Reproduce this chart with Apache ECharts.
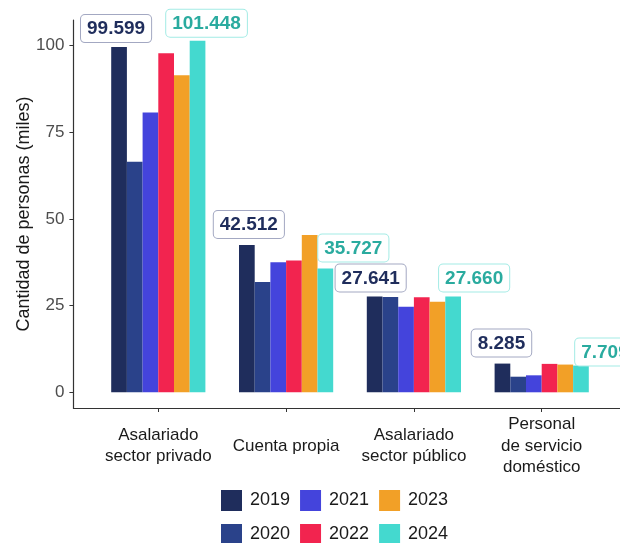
<!DOCTYPE html>
<html>
<head>
<meta charset="utf-8">
<script src="https://cdn.jsdelivr.net/npm/echarts@6/dist/echarts.min.js"></script>
<style>
html,body{margin:0;padding:0;background:#fff;}
#c{width:620px;height:543px;}
</style>
</head>
<body>
<div id="c"></div>
<script>
const categories = ['Asalariado\nsector privado', 'Cuenta propia', 'Asalariado\nsector público', 'Personal\nde servicio\ndoméstico'];
const years = ['2019', '2020', '2021', '2022', '2023', '2024'];
const v2019 = [99.599, 42.512, 27.641, 8.285];
const v2020 = [66.5, 31.8, 27.5, 4.5];
const v2021 = [80.7, 37.5, 24.7, 4.9];
const v2022 = [97.8, 38.0, 27.4, 8.2];
const v2023 = [91.5, 45.4, 26.1, 8.0];
const v2024 = [101.448, 35.727, 27.660, 7.709];
const yTicks = [0, 25, 50, 75, 100];
const yTitle = 'Cantidad de personas (miles)';

const values = [v2019, v2020, v2021, v2022, v2023, v2024];
const colors = ['#1f2d5c', '#2a428a', '#4444dc', '#f2244f', '#f2a027', '#44d9cf'];
const FONT = 'Liberation Sans, Arial, sans-serif';

// label nudges (repel-like placement), style only
const nudges2019 = [[-3, 0], [2, -2], [-4, 0], [-1, -2]];
const nudges2024 = [[9, 1], [28, -2], [21, 0], [24, 5]];

function labelled(vals, nudges, textColor, borderColor) {
  return vals.map((v, i) => ({
    value: v,
    label: {
      show: true,
      position: 'top',
      distance: 5,
      offset: nudges[i],
      formatter: (p) => p.value.toFixed(3),
      fontFamily: FONT,
      fontWeight: 'bold',
      fontSize: 19,
      lineHeight: 20,
      color: textColor,
      backgroundColor: '#ffffff',
      borderColor: borderColor,
      borderWidth: 1,
      borderRadius: 4,
      padding: [4, 6, 3, 6]
    }
  }));
}

const series = years.map((y, k) => {
  let data = values[k];
  if (k === 0) data = labelled(values[k], nudges2019, '#1f2d5c', '#a3a8c2');
  if (k === 5) data = labelled(values[k], nudges2024, '#2aab9f', '#a3ebe5');
  return {
    name: y,
    type: 'bar',
    xAxisIndex: 0,
    yAxisIndex: 0,
    barWidth: 15.7,
    barGap: '0%',
    clip: false,
    itemStyle: { color: colors[k] },
    data: data,
    z: 3
  };
});

const legendCommon = {
  orient: 'horizontal',
  left: 221,
  itemWidth: 21,
  itemHeight: 21,
  itemGap: 10,
  padding: 0,
  icon: 'rect',
  selectedMode: false,
  textStyle: { fontFamily: FONT, fontSize: 18, color: '#1a1a1a', padding: [0, 0, 0, 3] }
};

// pixel scale: 0 -> 392.3, 100 -> 45.7 ; grid from y=20 to y=408
const pxPerUnit = (392.3 - 45.7) / 100;
const yMin = -(408 - 392.3) / pxPerUnit;
const yMax = (392.3 - 20) / pxPerUnit;

const option = {
  animation: false,
  backgroundColor: '#ffffff',
  color: colors,
  legend: [
    Object.assign({}, legendCommon, { top: 490, data: [years[0], years[2], years[4]] }),
    Object.assign({}, legendCommon, { top: 524, data: [years[1], years[3], years[5]] })
  ],
  grid: [
    { left: 94.4, right: 14.4, top: 20, bottom: 135, outerBoundsMode: 'none', containLabel: false },
    { left: 73.4, right: -10, top: 20, bottom: 135, outerBoundsMode: 'none', containLabel: false }
  ],
  xAxis: [
    {
      type: 'category',
      gridIndex: 0,
      data: categories,
      axisLine: { show: false, onZero: false },
      axisTick: { show: true, alignWithLabel: true, length: 4, lineStyle: { color: '#333' } },
      axisLabel: {
        margin: 38,
        verticalAlign: 'middle',
        fontFamily: FONT,
        fontSize: 17,
        lineHeight: 21.5,
        color: '#1a1a1a',
        interval: 0
      }
    },
    {
      type: 'value',
      gridIndex: 1,
      min: 0, max: 1,
      axisLine: { show: true, onZero: false, lineStyle: { color: '#333', width: 1.2 } },
      axisTick: { show: false },
      axisLabel: { show: false },
      splitLine: { show: false }
    }
  ],
  yAxis: [
    {
      type: 'value',
      gridIndex: 0,
      min: yMin,
      max: yMax,
      offset: 21,
      name: yTitle,
      nameLocation: 'middle',
      nameGap: 40,
      nameMoveOverlap: false,
      nameTextStyle: { fontFamily: FONT, fontSize: 18, color: '#1a1a1a' },
      axisLine: { show: false, onZero: false },
      axisTick: { show: true, length: 4, customValues: yTicks, lineStyle: { color: '#333' } },
      axisLabel: { margin: 9, customValues: yTicks, fontFamily: FONT, fontSize: 17, color: '#4d4d4d' },
      splitLine: { show: false }
    },
    {
      type: 'value',
      gridIndex: 1,
      min: 0, max: 1,
      axisLine: { show: true, onZero: false, lineStyle: { color: '#333', width: 1.2 } },
      axisTick: { show: false },
      axisLabel: { show: false },
      splitLine: { show: false }
    }
  ],
  series: series
};

const chart = echarts.init(document.getElementById('c'), null, { renderer: 'canvas' });
chart.setOption(option);
</script>
</body>
</html>
